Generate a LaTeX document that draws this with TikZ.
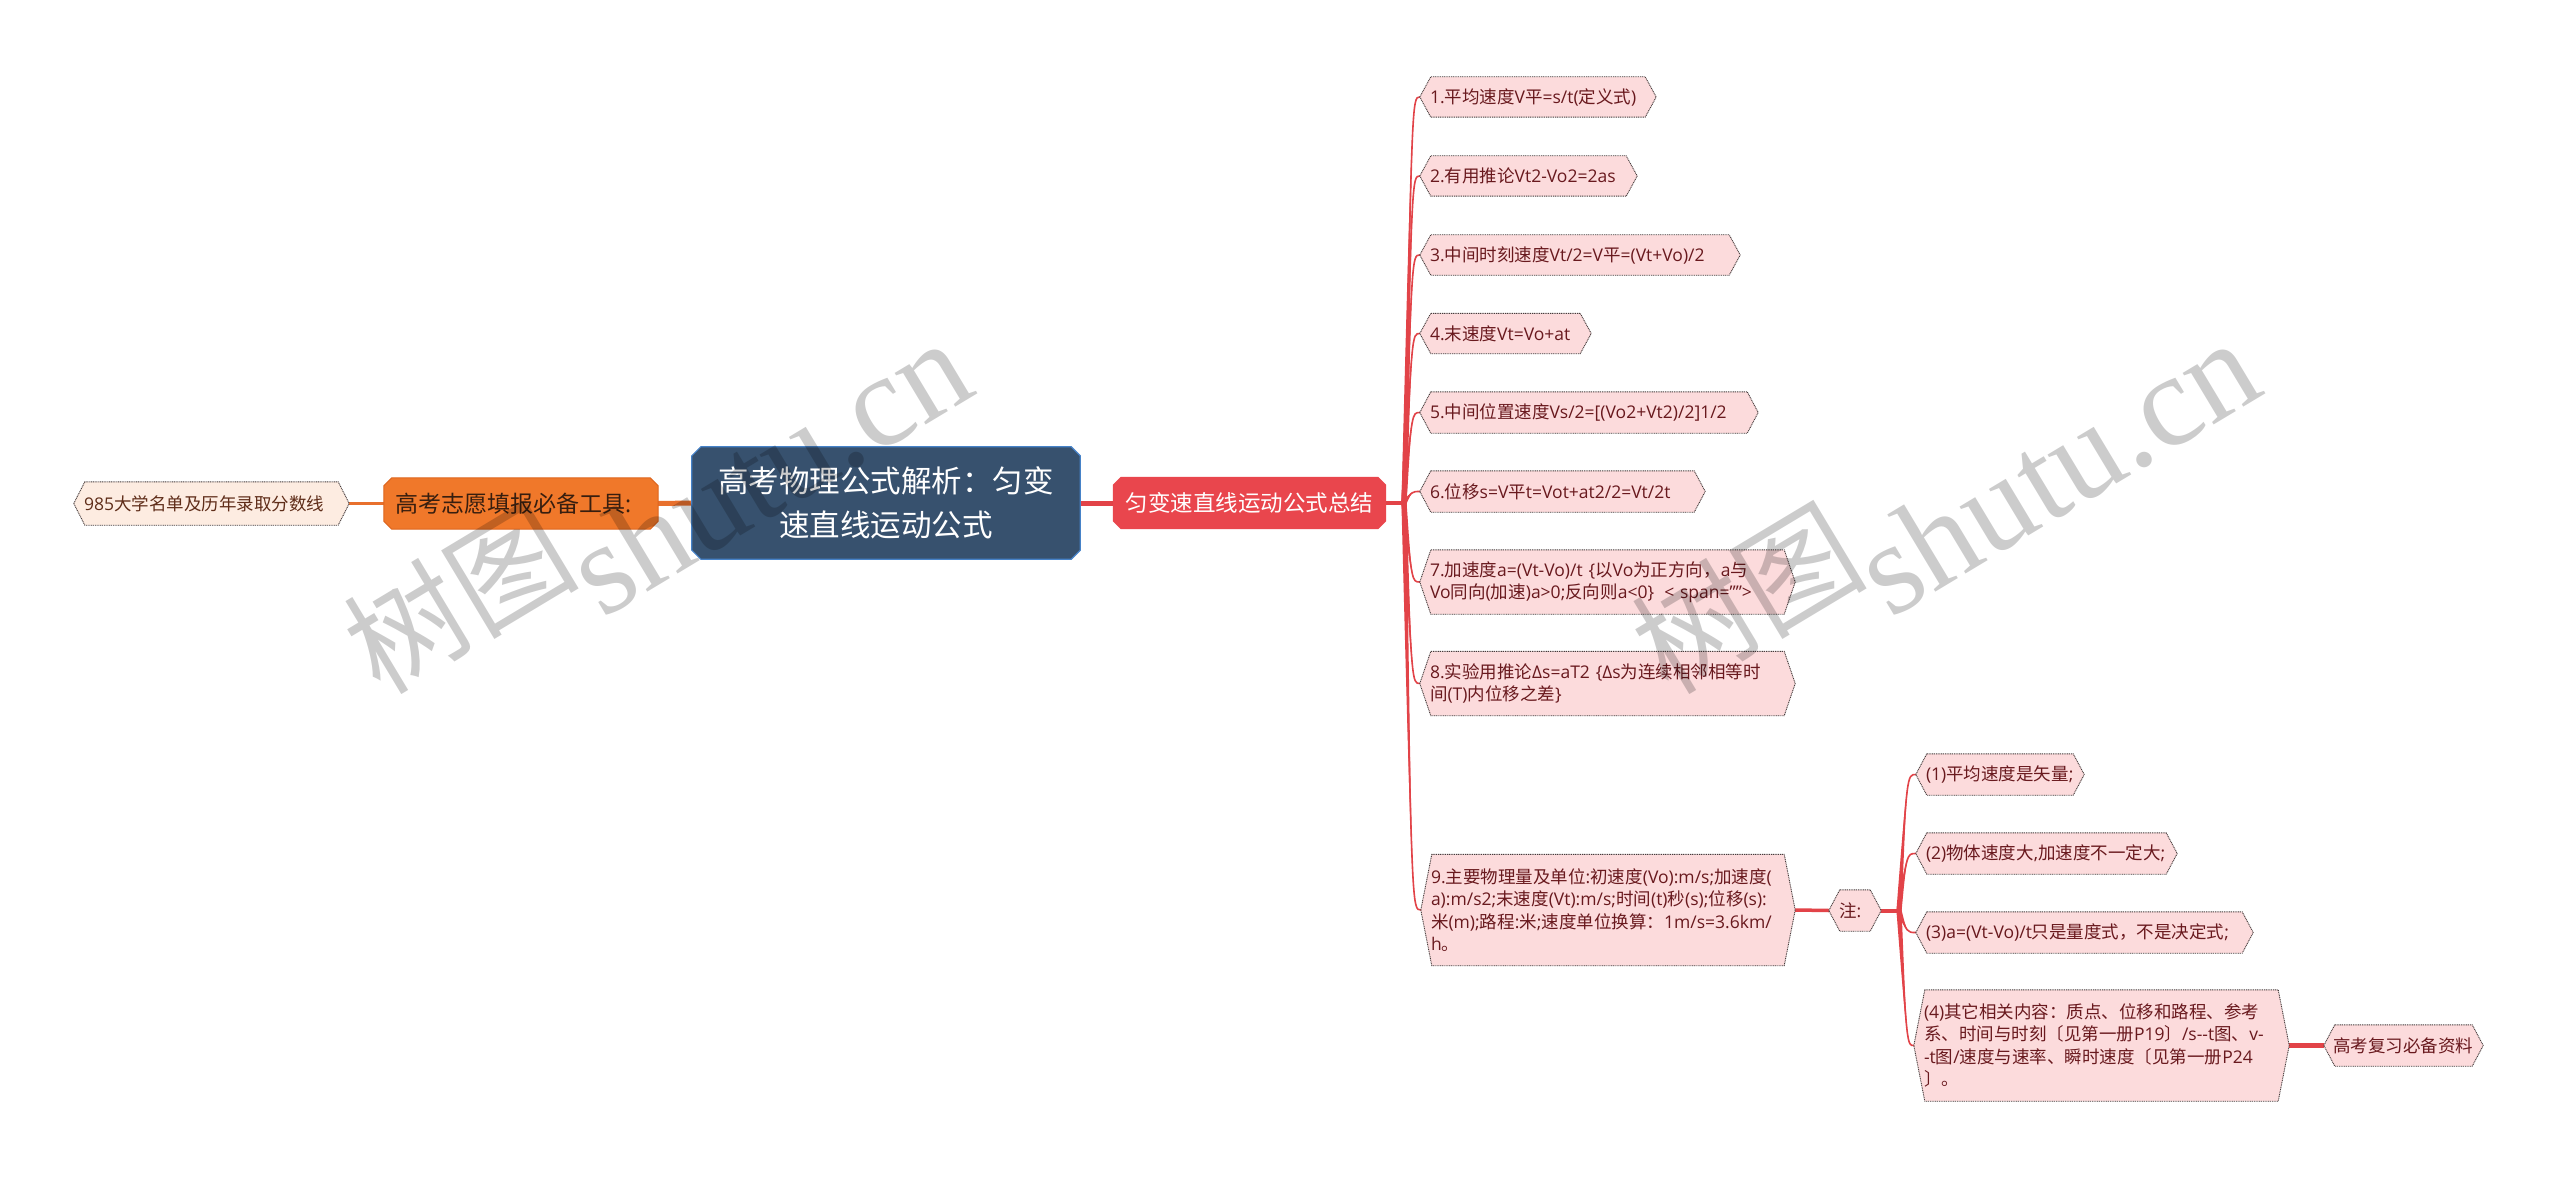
\documentclass[tikz,border=0pt]{standalone}
\usepackage{fontspec}
\setmainfont{Open Sans}
\newfontfamily\cjkfont{Noto Sans CJK SC}
\newfontfamily\wmfont{Liberation Serif}
\usetikzlibrary{backgrounds,calc}
% CJK characters in Noto Sans CJK SC, Latin in Open Sans
\XeTeXinterchartokenstate=1
\newXeTeXintercharclass\CJKcls
\newcount\cjkc
\newcommand\cjkrange[2]{\cjkc=#1\relax
  \loop\XeTeXcharclass\cjkc=\CJKcls
  \ifnum\cjkc<#2\relax\advance\cjkc by 1\relax\repeat}
\cjkrange{"3000}{"303F}
\cjkrange{"4E00}{"9FFF}
\cjkrange{"FF00}{"FFEF}
\XeTeXinterchartoks 0 \CJKcls = {\begingroup\cjkfont}
\XeTeXinterchartoks 4095 \CJKcls = {\begingroup\cjkfont}
\XeTeXinterchartoks \CJKcls 0 = {\endgroup}
\XeTeXinterchartoks \CJKcls 4095 = {\endgroup}

\definecolor{leaffill}{RGB}{252,219,220}
\definecolor{leafline}{RGB}{70,60,60}
\definecolor{leaftext}{RGB}{105,25,30}
\definecolor{redline}{RGB}{226,67,72}
\definecolor{redfill}{RGB}{233,70,77}
\definecolor{rootfill}{RGB}{55,81,110}
\definecolor{rootline}{RGB}{70,130,200}
\definecolor{orfill}{RGB}{240,120,42}
\definecolor{orline}{RGB}{222,102,30}
\definecolor{orconncol}{RGB}{232,112,45}
\definecolor{peach}{RGB}{253,236,225}
\definecolor{peachtext}{RGB}{95,45,25}
\definecolor{tooltext}{RGB}{55,30,15}

\newcommand\Ln[1]{\mbox{#1}}
\newcommand\hexshape[2]{\path[#2] (#1.west) -- ([xshift=11pt]#1.north west) -- ([xshift=-11pt]#1.north east) -- (#1.east) -- ([xshift=-11pt]#1.south east) -- ([xshift=11pt]#1.south west) -- cycle;}
\newcommand\chamshape[3]{\path[#3] ([xshift=#2]#1.north west) -- ([xshift=-#2]#1.north east) -- ([yshift=-#2]#1.north east) -- ([yshift=#2]#1.south east) -- ([xshift=-#2]#1.south east) -- ([xshift=#2]#1.south west) -- ([yshift=#2]#1.south west) -- ([yshift=-#2]#1.north west) -- cycle;}
% tapered curved branch: #1 junction, #2 control point, #3 target node
\newcommand\branch[3]{%
  \fill[redline] ($(#1)!2.6pt!90:(#2)$) .. controls (#2) .. (#3.west) .. controls (#2) .. ($(#1)!2.6pt!-90:(#2)$) -- cycle;
  \draw[redline, line width=1.6pt, line cap=round] (#1) .. controls (#2) .. (#3.west);}

\tikzset{
  leaf/.style={inner xsep=10pt, inner ysep=0pt, align=left, text=leaftext,
    font=\fontsize{17.5}{22.5}\selectfont},
  leafbox/.style={fill=leaffill, draw=leafline, line width=0.9pt, dash pattern=on 1pt off 0.8pt},
  peachbox/.style={fill=peach, draw=leafline, line width=0.9pt, dash pattern=on 1pt off 0.8pt},
  redconn/.style={draw=redline, line width=3.5pt, line cap=round},
  orconn/.style={draw=orconncol, line width=3.5pt},
  wm/.style={text=black, text opacity=0.2, inner sep=0pt},
}

\begin{document}
\begin{tikzpicture}[x=1pt,y=-1pt]
\useasboundingbox (0,0) rectangle (2560,1177);

% central topic
\node[inner sep=0pt, align=center, text=white, font=\fontsize{30.5}{44}\selectfont,
  minimum width=388pt, minimum height=112pt] (root) at (886,503)
  {高考物理公式解析：匀变\\速直线运动公式};

% left side
\node[inner xsep=11pt, inner ysep=0pt, align=left, text=tooltext, font=\fontsize{23}{26}\selectfont,
  text width=252pt, minimum height=51pt] (tool) at (521,503.5) {\Ln{高考志愿填报必备工具:}};
\node[leaf, text=peachtext, text width=255pt, minimum height=43pt] (n985) at (211.5,503.5)
  {\Ln{985大学名单及历年录取分数线}};

% right main branch
\node[inner sep=0pt, align=center, text=white, font=\fontsize{22.5}{26}\selectfont,
  minimum width=273pt, minimum height=52pt] (main) at (1249.5,503) {匀变速直线运动公式总结};

\node[leaf, text width=216pt, minimum height=40pt] (c1) at (1538,97) {\Ln{1.平均速度V平=s/t(定义式)}};
\node[leaf, text width=197pt, minimum height=40pt] (c2) at (1528.5,176) {\Ln{2.有用推论Vt2-Vo2=2as}};
\node[leaf, text width=300pt, minimum height=40pt] (c3) at (1580,255) {\Ln{3.中间时刻速度Vt/2=V平=(Vt+Vo)/2}};
\node[leaf, text width=151pt, minimum height=40pt] (c4) at (1505.5,333.5) {\Ln{4.末速度Vt=Vo+at}};
\node[leaf, text width=318pt, minimum height=41pt] (c5) at (1589,412.5) {\Ln{5.中间位置速度Vs/2=[(Vo2+Vt2)/2]1/2}};
\node[leaf, text width=265pt, minimum height=41pt] (c6) at (1562.5,491.5) {\Ln{6.位移s=V平t=Vot+at2/2=Vt/2t}};
\node[leaf, text width=355pt, minimum height=64pt] (c7) at (1607.5,582)
  {\Ln{7.加速度a=(Vt-Vo)/t \{以Vo为正方向，a与}\\\Ln{Vo同向(加速)a>0;反向则a<0\}\hspace{10pt}< span="">}};
\node[leaf, text width=355pt, minimum height=64pt] (c8) at (1607.5,683.5)
  {\Ln{8.实验用推论Δs=aT2 \{Δs为连续相邻相等时}\\\Ln{间(T)内位移之差\}}};
\node[leaf, text width=354pt, minimum height=111pt] (c9) at (1608,910)
  {\Ln{9.主要物理量及单位:初速度(Vo):m/s;加速度(}\\\Ln{a):m/s2;末速度(Vt):m/s;时间(t)秒(s);位移(s):}\\\Ln{米(m);路程:米;速度单位换算：1m/s=3.6km/}\\\Ln{h。}};

\node[leaf, text width=32pt, minimum height=41pt] (note) at (1855,910.5) {\Ln{注:}};

\node[leaf, text width=148pt, minimum height=41pt] (s1) at (2000,774.5) {\Ln{(1)平均速度是矢量;}};
\node[leaf, text width=241pt, minimum height=41pt] (s2) at (2046.5,853.5) {\Ln{(2)物体速度大,加速度不一定大;}};
\node[leaf, text width=317pt, minimum height=41pt] (s3) at (2084.5,932.5) {\Ln{(3)a=(Vt-Vo)/t只是量度式，不是决定式;}};
\node[leaf, text width=355pt, minimum height=111pt] (s4) at (2101.5,1045.5)
  {\Ln{(4)其它相关内容：质点、位移和路程、参考}\\\Ln{系、时间与时刻〔见第一册P19〕/s-{}-t图、v-}\\\Ln{-t图/速度与速率、瞬时速度〔见第一册P24}\\\Ln{〕。}};
\node[leaf, inner xsep=9pt, text width=141pt, minimum height=41pt] (extra) at (2403.5,1045.5) {\Ln{高考复习必备资料}};

\coordinate (j1) at (1404,503);
\coordinate (j1c) at (1412,503);
\coordinate (j2) at (1899,910.5);
\coordinate (j2c) at (1907,910.5);

\begin{pgfonlayer}{background}
  \fill[white] (0,0) rectangle (2560,1177);
  % connectors
  \draw[orconn, line width=3pt] (n985.east) -- (tool.west);
  \draw[orconn, line width=5pt] (tool.east) -- (root.west);
  \draw[redconn, line width=5pt, line cap=butt] (root.east) -- (main.west);
  \draw[redconn, line width=4.5pt] (main.east) -- (j1);
  \foreach \c in {c1,c2,c3,c4,c5,c6,c7,c8,c9}{
    \coordinate (k\c) at (j1c |- \c.west);
    \branch{j1}{k\c}{\c}
  }
  \draw[redconn, line width=3.5pt, line cap=butt] (c9.east) -- (note.west);
  \draw[redconn, line width=4pt] (note.east) -- (j2);
  \foreach \c in {s1,s2,s3,s4}{
    \coordinate (k\c) at (j2c |- \c.west);
    \branch{j2}{k\c}{\c}
  }
  \draw[redconn, line width=4.5pt, line cap=butt] (s4.east) -- (extra.west);
  % shapes
  \chamshape{root}{9pt}{fill=rootfill, draw=rootline, line width=1.2pt}
  \chamshape{tool}{8pt}{fill=orfill, draw=orline, line width=1pt}
  \chamshape{main}{8pt}{fill=redfill}
  \hexshape{n985}{peachbox}
  \foreach \c in {c1,c2,c3,c4,c5,c6,c7,c8,c9,note,s1,s2,s3,s4,extra}
    {\hexshape{\c}{leafbox}}
\end{pgfonlayer}

% watermarks
\node[wm, rotate=31, anchor=base west] (wm1) at (380,697)
  {{\fontsize{118}{120}\selectfont 树图}\hspace{-6pt}\raisebox{-48pt}{\wmfont\fontsize{131}{140}\selectfont shutu.cn}};
\node[wm, rotate=31, anchor=base west] (wm2) at (1668,697)
  {{\fontsize{118}{120}\selectfont 树图}\hspace{-6pt}\raisebox{-48pt}{\wmfont\fontsize{131}{140}\selectfont shutu.cn}};
\end{tikzpicture}
\end{document}
